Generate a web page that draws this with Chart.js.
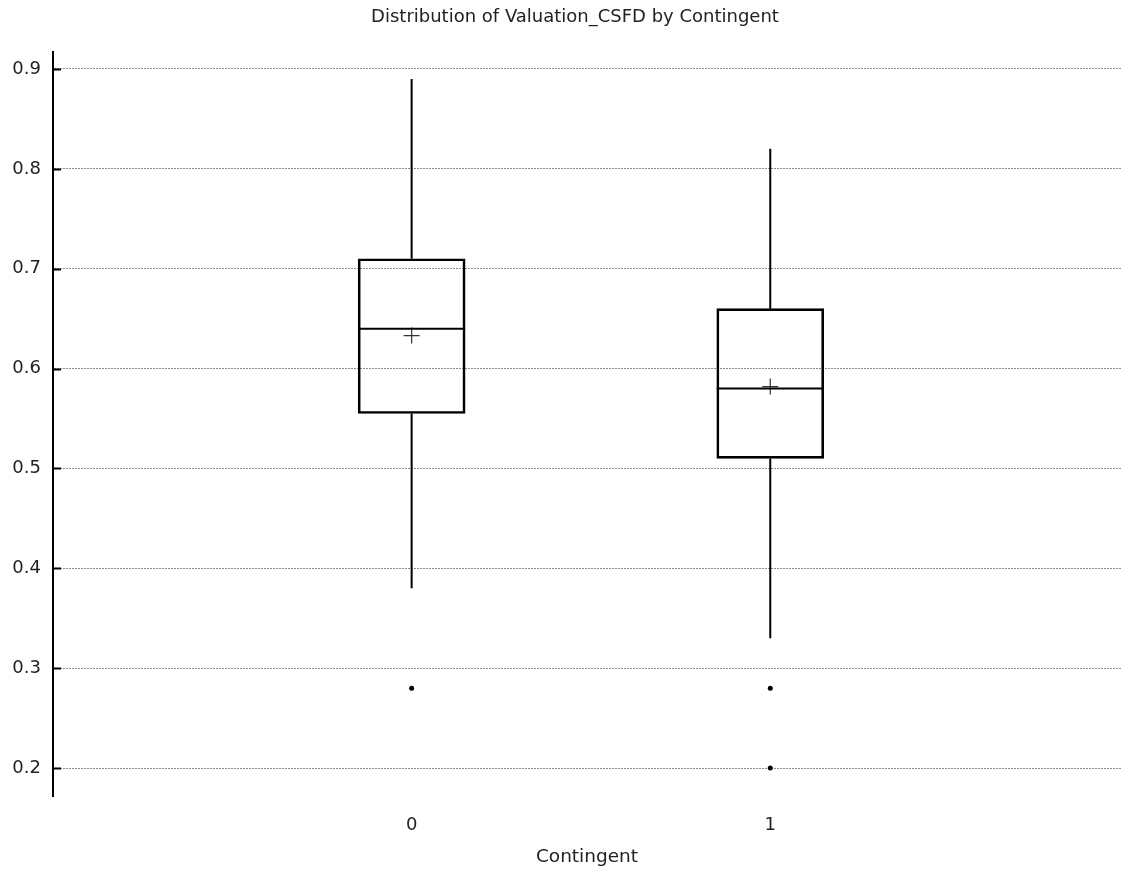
<!DOCTYPE html>
<html>
<head>
<meta charset="UTF-8" />
<title>Distribution of Valuation_CSFD by Contingent</title>
<script src="https://cdn.jsdelivr.net/npm/chart.js"></script>
<style>
  *{box-sizing:border-box}
  html,body{margin:0;padding:0;background:#fff;overflow:hidden;}
  canvas{display:block;}
</style>
</head>
<body>
<canvas id="box" width="1121" height="870"></canvas>
<script>
// box plot stats per Contingent group
const groups = [0, 1];
const whiskerLow = [0.38, 0.33];
const q1 = [0.555, 0.51];
const medians = [0.64, 0.58];
const means = [0.633, 0.582];
const q3 = [0.71, 0.66];
const whiskerHigh = [0.89, 0.82];
const outlierGroup = [0, 1, 1];
const outlierValue = [0.28, 0.28, 0.20];
const yTicks = [0.2, 0.3, 0.4, 0.5, 0.6, 0.7, 0.8, 0.9];

const FONT = "'DejaVu Sans', Verdana, sans-serif";
const BOX_PX = 107;

// whiskers, median, inward y ticks and the title
const boxExtras = {
  id: "boxExtras",
  afterDatasetsDraw(chart){
    const {ctx, scales:{x, y}} = chart;
    ctx.save();
    ctx.strokeStyle = "#000";
    ctx.lineWidth = 2;
    groups.forEach((g, i) => {
      const px = x.getPixelForValue(g);
      ctx.beginPath();
      ctx.moveTo(px, y.getPixelForValue(q3[i]));
      ctx.lineTo(px, y.getPixelForValue(whiskerHigh[i]));
      ctx.moveTo(px, y.getPixelForValue(q1[i]));
      ctx.lineTo(px, y.getPixelForValue(whiskerLow[i]));
      const my = y.getPixelForValue(medians[i]);
      ctx.moveTo(px - BOX_PX/2, my);
      ctx.lineTo(px + BOX_PX/2, my);
      ctx.stroke();
    });
    ctx.restore();
  },
  afterDraw(chart){
    const {ctx, chartArea, scales:{y}} = chart;
    ctx.save();
    ctx.strokeStyle = "#000";
    ctx.lineWidth = 2;
    ctx.beginPath();
    yTicks.forEach(v => {
      const py = Math.round(y.getPixelForValue(v)) + 0.5;
      ctx.moveTo(chartArea.left, py);
      ctx.lineTo(chartArea.left + 8, py);
    });
    ctx.stroke();
    ctx.fillStyle = "#222";
    ctx.font = "18px " + FONT;
    ctx.textAlign = "center";
    ctx.textBaseline = "middle";
    ctx.fillText("Distribution of Valuation_CSFD by Contingent", 575, 17);
    ctx.restore();
  }
};

new Chart(document.getElementById("box"), {
  data: {
    datasets: [
      {
        type: "bar",
        data: groups.map((g, i) => ({x: g, y: [q1[i], q3[i]]})),
        backgroundColor: "rgba(0,0,0,0)",
        borderColor: "#000",
        borderWidth: 2,
        borderSkipped: false,
        barThickness: BOX_PX
      },
      {
        type: "scatter",
        data: groups.map((g, i) => ({x: g, y: means[i]})),
        pointStyle: "cross",
        pointRadius: 8,
        borderColor: "#333",
        borderWidth: 1.2
      },
      {
        type: "scatter",
        data: outlierGroup.map((g, i) => ({x: g, y: outlierValue[i]})),
        pointStyle: "circle",
        pointRadius: 2.5,
        backgroundColor: "#000",
        borderWidth: 0
      }
    ]
  },
  options: {
    responsive: false,
    animation: false,
    layout: { autoPadding: false, padding: { top: 52, left: 0, right: 0, bottom: 0 } },
    plugins: { legend: { display: false }, tooltip: { enabled: false }, title: { display: false } },
    scales: {
      x: {
        type: "linear",
        offset: false,
        min: -1,
        max: 1.978,
        afterBuildTicks: s => { s.ticks = groups.map(v => ({value: v})); },
        afterFit: s => { s.height = 74; s.paddingLeft = 0; s.paddingRight = 0; },
        grid: { display: false, offset: false },
        border: { display: false },
        ticks: { font: { family: FONT, size: 18 }, color: "#222", padding: 11 },
        title: { display: true, text: "Contingent", font: { family: FONT, size: 18.5 }, color: "#222", padding: { top: 4, bottom: 2 } }
      },
      y: {
        type: "linear",
        min: 0.172,
        max: 0.917,
        afterBuildTicks: s => { s.ticks = yTicks.map(v => ({value: v})); },
        afterFit: s => { s.width = 53; s.paddingTop = 0; s.paddingBottom = 0; },
        grid: { color: "#8a8a8a", lineWidth: 1, drawTicks: false },
        border: { display: true, color: "#000", width: 2, dash: [2, 1] },
        ticks: { font: { family: FONT, size: 18 }, color: "#222", padding: 12, callback: v => v.toFixed(1) }
      }
    }
  },
  plugins: [boxExtras]
});
</script>
</body>
</html>
